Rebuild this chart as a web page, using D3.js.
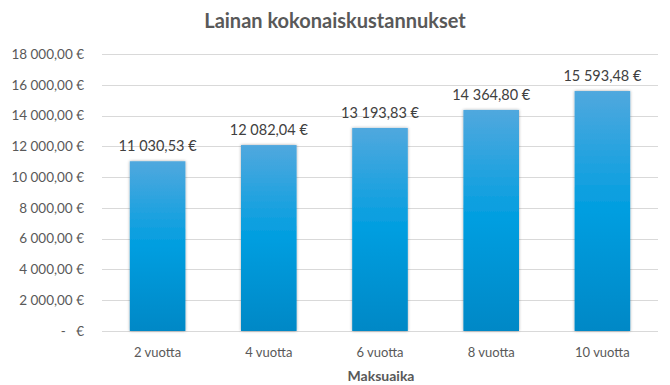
<html>
<head>
<script src="https://cdn.jsdelivr.net/npm/d3@7"></script>
<style>
  body { margin: 0; background: #fff; }
  text { font-family: Lato, "Open Sans", sans-serif; }
</style>
</head>
<body>
<div id="chart"></div>
<script>
// data
var categories = ["2 vuotta", "4 vuotta", "6 vuotta", "8 vuotta", "10 vuotta"];
var values = [11030.53, 12082.04, 13193.83, 14364.80, 15593.48];
var yTicks = [0, 2000, 4000, 6000, 8000, 10000, 12000, 14000, 16000, 18000];

var width = 670, height = 385;
var plot = { left: 102, right: 658, top: 54, bottom: 331 };

var svg = d3.select("#chart").append("svg")
  .attr("width", width).attr("height", height);

var defs = svg.append("defs");
var grad = defs.append("linearGradient").attr("id", "barGrad")
  .attr("x1", 0).attr("y1", 0).attr("x2", 0).attr("y2", 1);
grad.append("stop").attr("offset", "0%").attr("stop-color", "#50a8de");
grad.append("stop").attr("offset", "50%").attr("stop-color", "#009ee0");
grad.append("stop").attr("offset", "100%").attr("stop-color", "#0088c6");

var shadow = defs.append("filter").attr("id", "shadow")
  .attr("x", "-20%").attr("y", "-10%").attr("width", "140%").attr("height", "120%");
shadow.append("feDropShadow").attr("dx", 0).attr("dy", 0)
  .attr("stdDeviation", 1.5).attr("flood-color", "#000").attr("flood-opacity", 0.35);

var x = d3.scaleBand().domain(categories)
  .range([plot.left, plot.right]).paddingInner(0.5).paddingOuter(0.25);
var y = d3.scaleLinear().domain([0, 18000]).range([plot.bottom, plot.top]);

function euro(v) {
  if (v === 0) return "-   €";
  var s = d3.format(",.2f")(v);
  return s.replace(/,/g, " ").replace(".", ",") + " €";
}

// gridlines
svg.append("g").selectAll("line").data(yTicks).enter().append("line")
  .attr("x1", plot.left).attr("x2", plot.right)
  .attr("y1", function (d) { return Math.round(y(d)) + 0.5; })
  .attr("y2", function (d) { return Math.round(y(d)) + 0.5; })
  .attr("stroke", "#d9d9d9").attr("stroke-width", 1);

// y axis labels
svg.append("g").selectAll("text").data(yTicks).enter().append("text")
  .attr("x", 84).attr("y", function (d) { return y(d); })
  .attr("dy", "0.35em").attr("text-anchor", "end")
  .attr("fill", "#595959").style("font-size", "13.5px")
  .attr("xml:space", "preserve")
  .text(euro);

// bars
svg.append("g").selectAll("rect").data(values).enter().append("rect")
  .attr("x", function (d, i) { return x(categories[i]); })
  .attr("y", function (d) { return y(d); })
  .attr("width", x.bandwidth())
  .attr("height", function (d) { return y(0) - y(d); })
  .attr("fill", "url(#barGrad)")
  .attr("filter", "url(#shadow)");

// value labels
svg.append("g").selectAll("text").data(values).enter().append("text")
  .attr("x", function (d, i) { return x(categories[i]) + x.bandwidth() / 2; })
  .attr("y", function (d) { return y(d) - 10; })
  .attr("text-anchor", "middle").attr("fill", "#404040")
  .style("font-size", "14.5px")
  .text(euro);

// category labels
svg.append("g").selectAll("text").data(categories).enter().append("text")
  .attr("x", function (d) { return x(d) + x.bandwidth() / 2; })
  .attr("y", 357).attr("text-anchor", "middle")
  .attr("fill", "#595959").style("font-size", "13px")
  .text(function (d) { return d; });

// axis title
svg.append("text").attr("x", (plot.left + plot.right) / 2 + 1).attr("y", 381)
  .attr("text-anchor", "middle").attr("fill", "#595959")
  .style("font-size", "14px").style("font-weight", "bold")
  .text("Maksuaika");

// chart title
svg.append("text").attr("x", 335).attr("y", 28)
  .attr("text-anchor", "middle").attr("fill", "#595959")
  .style("font-size", "20px").style("font-weight", "bold")
  .text("Lainan kokonaiskustannukset");
</script>
</body>
</html>
